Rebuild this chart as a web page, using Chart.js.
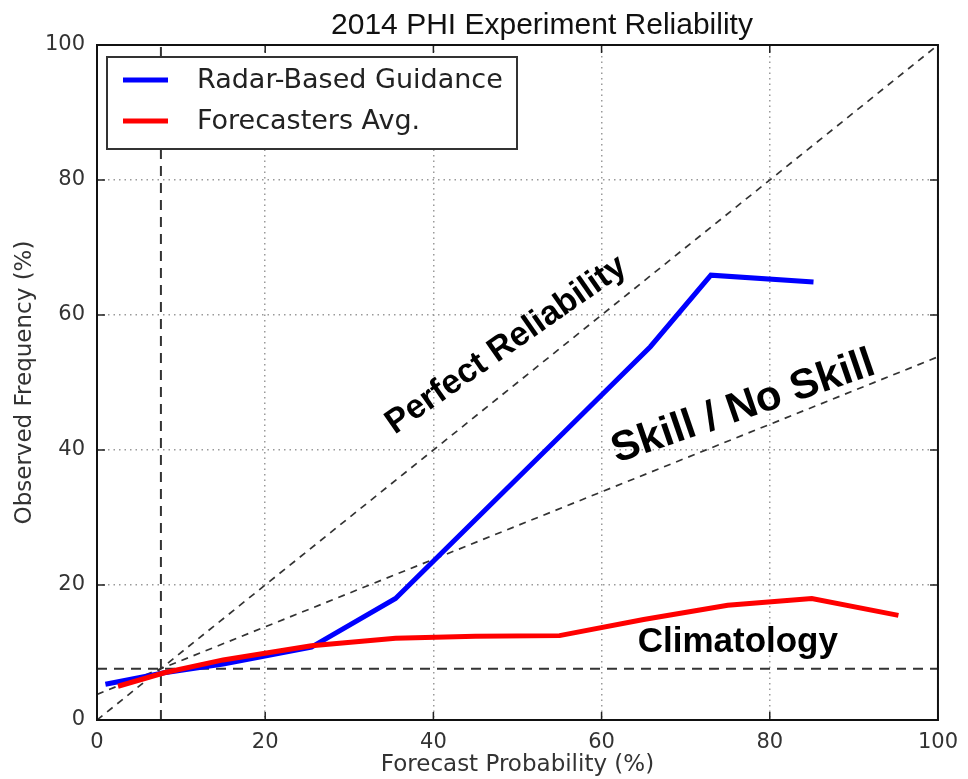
<!DOCTYPE html>
<html>
<head>
<meta charset="utf-8">
<script src="https://cdn.jsdelivr.net/npm/chart.js@4.4.1/dist/chart.umd.min.js"></script>
<style>
  html, body { margin: 0; padding: 0; background: #fff; }
  #wrap { width: 968px; height: 779px; position: relative; }
</style>
</head>
<body>
<div id="wrap"><canvas id="reliabilityChart" width="968" height="779"></canvas></div>
<script>
// forecast bins (%) and observed frequency (%)
const radarX = [1, 8, 15, 25.5, 35.5, 45.5, 55.5, 65.8, 73, 85.2];
const radarY = [5.3, 7, 8.3, 10.8, 18, 30.3, 42.6, 55.3, 65.9, 64.9];
const fcstX = [2.5, 8, 15, 25.5, 35.5, 45, 55, 65, 75, 85, 95.3];
const fcstY = [5.0, 7, 8.9, 11, 12.1, 12.4, 12.5, 14.9, 17, 18, 15.5];

// reference lines
const perfectX = [0, 100];
const perfectY = [0, 100];
const skillX = [0, 100];
const skillY = [3.8, 53.8];
const climoValue = 7.6;

const axisTicks = [0, 20, 40, 60, 80, 100];
const seriesNames = ['Radar-Based Guidance', 'Forecasters Avg.'];
const seriesColors = ['#0000ff', '#ff0000'];

const toPoints = function (xs, ys) {
    return xs.map(function (x, i) { return { x: x, y: ys[i] }; });
};

const dashed = function (points, dash, width, order) {
    return {
        data: points,
        borderColor: '#333333',
        borderWidth: width,
        borderDash: dash,
        pointRadius: 0,
        fill: false,
        tension: 0,
        order: order
    };
};

const boldFont = function (size) {
    return 'bold ' + size + 'px "Liberation Sans", Arial, sans-serif';
};

// frame, inward ticks, legend box, title and text labels
const decorations = {
    id: 'decorations',
    afterDatasetsDraw(chart) {
        const ctx = chart.ctx;
        const area = chart.chartArea;
        const xs = chart.scales.x;
        const ys = chart.scales.y;

        ctx.save();

        // text labels on the plot
        ctx.fillStyle = '#000';
        ctx.textAlign = 'center';
        ctx.textBaseline = 'alphabetic';

        ctx.save();
        ctx.translate(xs.getPixelForValue(49.3), ys.getPixelForValue(54.4));
        ctx.rotate(-35 * Math.PI / 180);
        ctx.font = boldFont(34);
        ctx.fillText('Perfect Reliability', 0, 0);
        ctx.restore();

        ctx.save();
        ctx.translate(xs.getPixelForValue(77.3), ys.getPixelForValue(44.7));
        ctx.rotate(-19 * Math.PI / 180);
        ctx.font = boldFont(42);
        ctx.fillText('Skill / No Skill', 0, 0);
        ctx.restore();

        ctx.font = boldFont(35);
        ctx.fillText('Climatology', xs.getPixelForValue(76.2), ys.getPixelForValue(10.1));

        // legend
        const lx = 107, ly = 57, lw = 410, lh = 92;
        ctx.fillStyle = '#fff';
        ctx.fillRect(lx, ly, lw, lh);
        ctx.strokeStyle = '#333';
        ctx.lineWidth = 2;
        ctx.strokeRect(lx, ly, lw, lh);
        ctx.font = '27px "DejaVu Sans", sans-serif';
        ctx.textAlign = 'left';
        ctx.textBaseline = 'middle';
        seriesNames.forEach(function (name, i) {
            const cy = ly + 23 + i * 41;
            ctx.strokeStyle = seriesColors[i];
            ctx.lineWidth = 5;
            ctx.beginPath();
            ctx.moveTo(lx + 16, cy);
            ctx.lineTo(lx + 61, cy);
            ctx.stroke();
            ctx.fillStyle = '#222';
            ctx.fillText(name, lx + 90, cy + 1);
        });

        // inward tick marks on all four sides
        ctx.strokeStyle = '#222';
        ctx.lineWidth = 1.5;
        ctx.beginPath();
        axisTicks.forEach(function (v) {
            const px = xs.getPixelForValue(v);
            const py = ys.getPixelForValue(v);
            ctx.moveTo(px, area.bottom); ctx.lineTo(px, area.bottom - 8);
            ctx.moveTo(px, area.top); ctx.lineTo(px, area.top + 8);
            ctx.moveTo(area.left, py); ctx.lineTo(area.left + 8, py);
            ctx.moveTo(area.right, py); ctx.lineTo(area.right - 8, py);
        });
        ctx.stroke();

        // frame
        ctx.strokeStyle = '#111';
        ctx.lineWidth = 2;
        ctx.strokeRect(area.left, area.top, area.right - area.left, area.bottom - area.top);

        // title, sitting a little right of the plot centre
        ctx.fillStyle = '#111';
        ctx.font = '30px "Liberation Sans", Arial, sans-serif';
        ctx.textAlign = 'center';
        ctx.textBaseline = 'alphabetic';
        ctx.fillText('2014 PHI Experiment Reliability', 542, 34);

        ctx.restore();
    }
};

const gridStyle = {
    color: '#9a9a9a',
    lineWidth: 1.5,
    drawTicks: false
};

new Chart(document.getElementById('reliabilityChart'), {
    type: 'line',
    data: {
        datasets: [
            {
                label: seriesNames[1],
                data: toPoints(fcstX, fcstY),
                borderColor: seriesColors[1],
                borderWidth: 5,
                pointRadius: 0,
                tension: 0,
                fill: false,
                order: 1
            },
            {
                label: seriesNames[0],
                data: toPoints(radarX, radarY),
                borderColor: seriesColors[0],
                borderWidth: 5,
                pointRadius: 0,
                tension: 0,
                fill: false,
                order: 2
            },
            dashed(toPoints(perfectX, perfectY), [7, 6], 1.7, 3),
            dashed(toPoints(skillX, skillY), [7, 6], 1.7, 4),
            dashed(toPoints([0, 100], [climoValue, climoValue]), [10, 7], 2, 5),
            dashed(toPoints([climoValue, climoValue], [0, 100]), [10, 7], 2, 6)
        ]
    },
    options: {
        responsive: false,
        animation: false,
        devicePixelRatio: 1,
        layout: { padding: { top: 45, right: 26, left: 0, bottom: 0 } },
        plugins: {
            legend: { display: false },
            tooltip: { enabled: false }
        },
        scales: {
            x: {
                type: 'linear',
                min: 0,
                max: 100,
                afterFit: function (scale) { scale.height = 59; },
                ticks: {
                    stepSize: 20,
                    color: '#333',
                    padding: 10,
                    font: { family: '"DejaVu Sans", sans-serif', size: 21 },
                    maxRotation: 0
                },
                grid: gridStyle,
                border: { display: false, dash: [1.5, 4] },
                title: {
                    display: true,
                    text: 'Forecast Probability (%)',
                    color: '#333',
                    font: { family: '"DejaVu Sans", sans-serif', size: 23 },
                    padding: { top: 0, bottom: 0 }
                }
            },
            y: {
                type: 'linear',
                min: 0,
                max: 100,
                afterFit: function (scale) { scale.width = 97; },
                ticks: {
                    stepSize: 20,
                    color: '#333',
                    padding: 12,
                    font: { family: '"DejaVu Sans", sans-serif', size: 21 }
                },
                grid: gridStyle,
                border: { display: false, dash: [1.5, 4] },
                title: {
                    display: true,
                    text: 'Observed Frequency (%)',
                    color: '#333',
                    font: { family: '"DejaVu Sans", sans-serif', size: 23 },
                    padding: { top: 11, bottom: 0 }
                }
            }
        }
    },
    plugins: [decorations]
});
</script>
</body>
</html>
